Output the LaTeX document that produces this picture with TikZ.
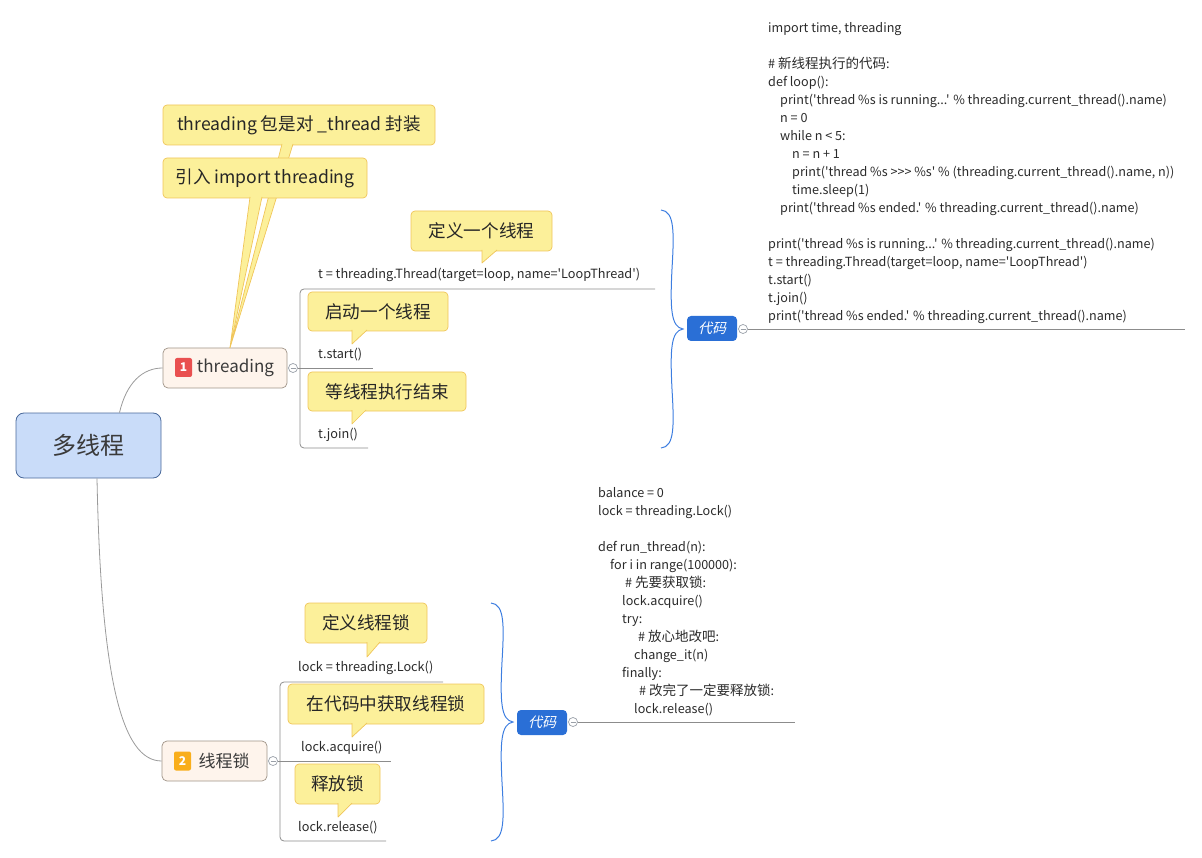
\documentclass[tikz,border=0pt]{standalone}
\usepackage{fontspec}
\setmainfont{Noto Sans CJK SC}
\newfontfamily\codefont{Noto Sans CJK SC}
\newfontfamily\tagfont[FakeSlant=0.25]{Noto Sans CJK SC}
\newcommand\zhnote[1]{{\fontsize{13.5}{18}\selectfont #1}}
\usetikzlibrary{calc}

\definecolor{rootfill}{HTML}{C9DCF9}
\definecolor{rootedge}{HTML}{4A6A9B}
\definecolor{topicfill}{HTML}{FEF4EC}
\definecolor{topicedge}{HTML}{A09488}
\definecolor{notefill}{HTML}{FCF09A}
\definecolor{noteedge}{HTML}{F0C55A}
\definecolor{notetext}{HTML}{262626}
\definecolor{inkgray}{HTML}{3A3A3A}
\definecolor{codetext}{HTML}{2A2A2A}
\definecolor{tagblue}{HTML}{2A6FD6}
\definecolor{braceblue}{HTML}{3D7EE0}
\definecolor{linegray}{HTML}{8C8C8C}
\definecolor{branchgray}{HTML}{9A9A9A}
\definecolor{knobgray}{HTML}{9AA0A8}
\definecolor{badgered}{HTML}{E95050}
\definecolor{badgeorange}{HTML}{F9AE1B}

\tikzset{
  root/.style={draw=rootedge, fill=rootfill, rounded corners=8pt, line width=0.8pt,
    minimum width=145pt, minimum height=65pt, font=\fontsize{24}{24}\selectfont, text=inkgray},
  topic/.style={draw=topicedge, fill=topicfill, rounded corners=5pt, line width=0.7pt,
    minimum height=40pt, inner sep=0pt, font=\fontsize{17}{17}\selectfont, text=inkgray},
  badge/.style={rounded corners=2pt, minimum width=17pt, minimum height=19pt, inner sep=0pt,
    text=white, font=\bfseries\fontsize{12}{12}\selectfont},
  note/.style={draw=noteedge, fill=notefill, rounded corners=4pt, line width=0.7pt,
    minimum height=40pt, inner sep=0pt, font=\fontsize{17.6}{17.6}\selectfont, text=notetext},
  tail/.style={draw=noteedge, fill=notefill, line width=0.7pt, line join=round},
  leaf/.style={anchor=west, inner sep=0pt, font=\codefont\fontsize{12.7}{12.7}\selectfont, text=codetext},
  codeblock/.style={anchor=north west, inner sep=0pt, align=left,
    font=\codefont\fontsize{12.6}{18}\selectfont, text=codetext},
  codetag/.style={fill=tagblue, rounded corners=4pt, minimum width=50pt, minimum height=25pt,
    inner sep=0pt, text=white, font=\tagfont\fontsize{14}{14}\selectfont},
  twig/.style={draw=linegray, line width=0.8pt},
  branch/.style={draw=branchgray, line width=0.8pt},
  knob/.style={circle, draw=knobgray, fill=white, line width=0.7pt, minimum size=9pt, inner sep=0pt,
    path picture={\draw[knobgray, line width=0.7pt] ([xshift=2pt]path picture bounding box.west)
      -- ([xshift=-2pt]path picture bounding box.east);}},
  codebrace/.pic={
    \draw[braceblue, line width=1pt] (-22,-119) .. controls (-8,-118) and (-9,-95) .. (-11,-60)
      .. controls (-13,-20) and (-12,-2) .. (0,0)
      .. controls (-12,2) and (-13,20) .. (-11,60)
      .. controls (-9,95) and (-8,118) .. (-22,119);
  }
}

\begin{document}
\begin{tikzpicture}[x=1pt,y=-1pt]
  \useasboundingbox (0,0) rectangle (1202,858);

  % root and main topics
  \node[root] (root) at (88.5,445.5) {多线程};
  \node[topic, minimum width=124pt] (thr) at (225,368) {\hspace*{21pt}threading};
  \node[badge, fill=badgered] (thrbadge) at (183.5,367.5) {1};
  \node[topic, minimum width=105pt] (lck) at (214.5,761) {\hspace*{19pt}线程锁};
  \node[badge, fill=badgeorange] (lckbadge) at (182.5,761) {2};

  \draw[branch] ([xshift=31pt]root.north) .. controls +(7,-30) and +(-20,0) .. (thr.west);
  \draw[branch] ([xshift=8.5pt]root.south) .. controls +(4,200) and +(-40,0) .. (lck.west);

  % notes on threading
  \node[note, minimum width=272pt] (pkg) at (299,125) {threading 包是对 \_thread 封装};
  \path[tail] (282,144) -- ([xshift=5pt]thr.north) -- (293,144);
  \node[note, minimum width=204pt] (imp) at (265,178) {引入 import threading};
  \path[tail] (250,197) -- ([xshift=5pt]thr.north) -- (262,197);

  % threading children
  \node[knob] (thrknob) at (293,368) {};
  \coordinate (thrfork) at (300,368);
  \coordinate (tdefend) at (655,289);
  \coordinate (tstartend) at (373,368);
  \coordinate (tjoinend) at (368,448);
  \draw[twig, rounded corners=4pt] (tdefend) -- (thrfork |- tdefend) -- (thrfork |- tjoinend) -- (tjoinend);
  \draw[twig] (thrknob.east) -- (tstartend);

  \node[leaf] (tdef) at (318,275) {t = threading.Thread(target=loop, name='LoopThread')};
  \node[leaf] (tstart) at (318,355) {t.start()};
  \node[leaf] (tjoin) at (318,435) {t.join()};

  \node[note, minimum width=141pt] (ndef) at (481.5,231) {定义一个线程};
  \path[tail] (482,250) -- (482,263) -- (497,250);
  \node[note, minimum width=140pt, minimum height=39pt] (nstart) at (378,311.5) {启动一个线程};
  \path[tail] (352,330) -- (352,344) -- (367,330);
  \node[note, minimum width=158pt, minimum height=39pt] (njoin) at (387,391.5) {等线程执行结束};
  \path[tail] (352,410) -- (352,424) -- (366,410);

  % code of threading
  \pic at (683,329) {codebrace};
  \node[codetag] (code1) at (712,328.5) {代码};
  \node[knob] (code1knob) at (743,329) {};
  \coordinate (code1end) at (1185,329);
  \draw[twig] (code1knob.east) -- (code1end);
  \node[codeblock] (code1text) at (768,22) {%
    import time, threading\\
    \mbox{}\\
    \# \zhnote{新线程执行的代码}:\\
    def loop():\\
    \hspace*{12pt}print('thread \%s is running...' \% threading.current\_thread().name)\\
    \hspace*{12pt}n = 0\\
    \hspace*{12pt}while n < 5:\\
    \hspace*{24pt}n = n + 1\\
    \hspace*{24pt}print('thread \%s >>> \%s' \% (threading.current\_thread().name, n))\\
    \hspace*{24pt}time.sleep(1)\\
    \hspace*{12pt}print('thread \%s ended.' \% threading.current\_thread().name)\\
    \mbox{}\\
    print('thread \%s is running...' \% threading.current\_thread().name)\\
    t = threading.Thread(target=loop, name='LoopThread')\\
    t.start()\\
    t.join()\\
    print('thread \%s ended.' \% threading.current\_thread().name)};

  % lock children
  \node[knob] (lckknob) at (273,761) {};
  \coordinate (lckfork) at (280,761);
  \coordinate (ldefend) at (443,682);
  \coordinate (lacqend) at (391,761);
  \coordinate (lrelend) at (386,841);
  \draw[twig, rounded corners=4pt] (ldefend) -- (lckfork |- ldefend) -- (lckfork |- lrelend) -- (lrelend);
  \draw[twig] (lckknob.east) -- (lacqend);

  \node[leaf] (ldef) at (298,668) {lock = threading.Lock()};
  \node[leaf] (lacq) at (301,748) {lock.acquire()};
  \node[leaf] (lrel) at (298,828) {lock.release()};

  \node[note, minimum width=122pt] (nlock) at (366,623) {定义线程锁};
  \path[tail] (367,642) -- (367,657) -- (380,642);
  \node[note, minimum width=196pt] (nacq) at (386,704) {在代码中获取线程锁};
  \path[tail] (352,723) -- (352,737) -- (367,723);
  \node[note, minimum width=85pt] (nrel) at (337.5,784) {释放锁};
  \path[tail] (338,803) -- (338,817) -- (352,803);

  % code of lock
  \pic at (513,722) {codebrace};
  \node[codetag] (code2) at (542,722.5) {代码};
  \node[knob] (code2knob) at (573,722) {};
  \coordinate (code2end) at (795,722);
  \draw[twig] (code2knob.east) -- (code2end);
  \node[codeblock] (code2text) at (598,487) {%
    balance = 0\\
    lock = threading.Lock()\\
    \mbox{}\\
    def run\_thread(n):\\
    \hspace*{12pt}for i in range(100000):\\
    \hspace*{27pt}\# \zhnote{先要获取锁}:\\
    \hspace*{24pt}lock.acquire()\\
    \hspace*{24pt}try:\\
    \hspace*{40pt}\# \zhnote{放心地改吧}:\\
    \hspace*{36pt}change\_it(n)\\
    \hspace*{24pt}finally:\\
    \hspace*{41pt}\# \zhnote{改完了一定要释放锁}:\\
    \hspace*{36pt}lock.release()};
\end{tikzpicture}
\end{document}
